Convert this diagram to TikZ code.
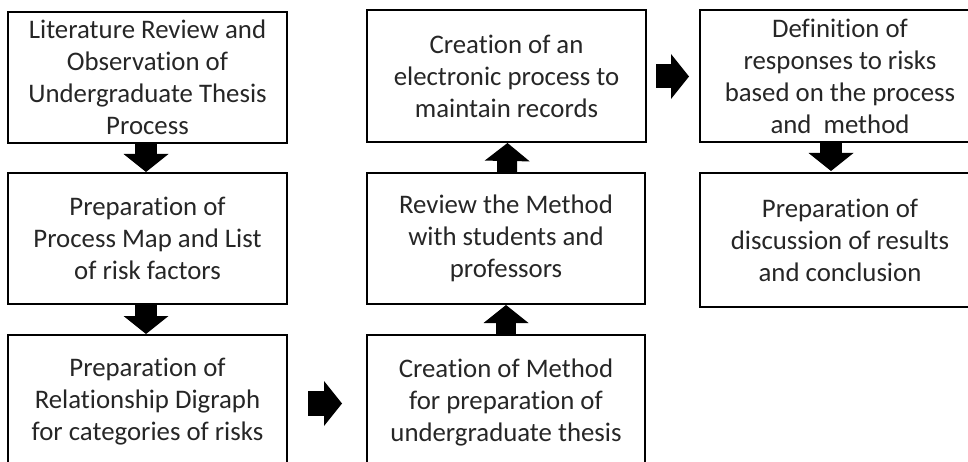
\documentclass[tikz,border=0pt]{standalone}
\usepackage{fontspec}
\setmainfont{Carlito}[Ligatures=NoCommon]
\usetikzlibrary{arrows.meta}
\definecolor{ink}{HTML}{262626}
\tikzset{
  box/.style={draw=black, line width=2pt, rectangle, align=center, inner sep=0pt,
    text=ink, font=\fontsize{26.8pt}{32pt}\selectfont,
    minimum width=279pt, minimum height=131pt},
  blockarrow/.style={line width=#1, line cap=butt, draw=black,
    -{Triangle[width=45pt, length=18pt, line width=0pt]}},
  blockarrow/.default=22pt
}
\begin{document}
\begin{tikzpicture}[x=1pt, y=-1pt]
  \useasboundingbox (0,0) rectangle (968,462);
  \clip (0,0) rectangle (968,462);

  % first column
  \node[box] (b1) at (147.5,77.5) {Literature Review and\\Observation of\\Undergraduate Thesis\\Process};
  \node[box] (b2) at (147.5,238.5) {Preparation of\\Process Map and List\\of risk factors};
  \node[box, minimum height=134pt] (b3) at (147.5,402) {Preparation of\\Relationship Digraph\\for categories of risks};

  % second column
  \node[box, minimum width=278pt, minimum height=134pt] (b4) at (506,402) {Creation of Method\\for preparation of\\undergraduate thesis};
  \node[box, minimum width=278pt] (b5) at (506,238.5) {Review the Method\\with students and\\professors};
  \node[box, minimum height=132pt] (b6) at (506.5,76) {Creation of an\\electronic process to\\maintain records};

  % third column
  \node[box, minimum width=280pt, minimum height=132pt] (b7) at (840,76) {Definition of\\responses to risks\\based on the process\\and~~method};
  \node[box, minimum width=280pt, minimum height=134pt] (b8) at (840,240) {Preparation of\\discussion of results\\and conclusion};

  % connectors
  \draw[blockarrow] ([xshift=-1.5pt]b1.south) -- ([xshift=-1.5pt]b2.north);
  \draw[blockarrow] ([xshift=-1.5pt]b2.south) -- ([xshift=-1.5pt]b3.north);
  \draw[blockarrow=25pt] ([xshift=20pt,yshift=-1.5pt]b3.east) -- ([xshift=-24pt,yshift=-1.5pt]b4.west);
  \draw[blockarrow=20pt] ([xshift=0pt]b4.north) -- ([xshift=0pt]b5.south);
  \draw[blockarrow=20pt] ([xshift=1pt]b5.north) -- ([xshift=1pt]b6.south);
  \draw[blockarrow=24pt] ([xshift=9pt,yshift=-0.5pt]b6.east) -- ([xshift=-10pt,yshift=-0.5pt]b7.west);
  \draw[blockarrow] ([xshift=-9pt]b7.south) -- ([xshift=-9pt,yshift=1pt]b8.north);
\end{tikzpicture}
\end{document}
